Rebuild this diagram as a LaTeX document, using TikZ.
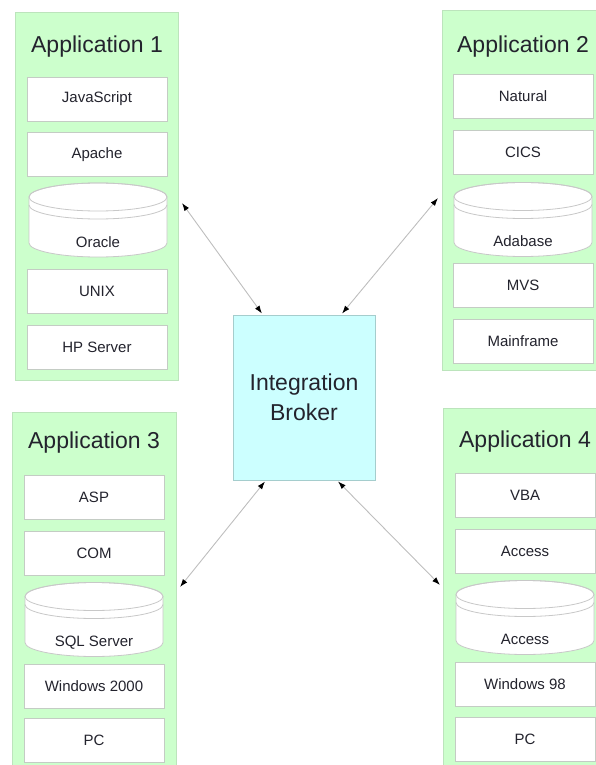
\documentclass[tikz,border=0pt]{standalone}
\usepackage{fontspec}
\setmainfont{Liberation Sans}
\usetikzlibrary{calc,arrows.meta}
\definecolor{panelgreen}{RGB}{204,255,204}
\definecolor{panelline}{RGB}{188,228,188}
\definecolor{boxline}{RGB}{196,204,196}
\definecolor{dbline}{RGB}{200,200,200}
\definecolor{brokercyan}{RGB}{204,255,255}
\definecolor{brokerline}{RGB}{165,205,205}
\definecolor{linkgray}{RGB}{190,190,190}
\definecolor{textdark}{RGB}{35,35,45}
% cylinder drawn inside a db node
\newcommand{\dbcyl}{%
  \coordinate (tl) at ($(path picture bounding box.north west)+(1,15)$);
  \coordinate (bl) at ($(path picture bounding box.south west)+(1,-15)$);
  \coordinate (tr) at ($(path picture bounding box.north east)+(-1,15)$);
  \coordinate (tc) at ($(path picture bounding box.north)+(0,15)$);
  \draw[dbline, fill=white, line width=0.8pt] (tl) -- (bl)
    arc[start angle=180, end angle=0, x radius=69, y radius=14] -- (tr)
    arc[start angle=0, end angle=-180, x radius=69, y radius=14] -- cycle;
  \draw[dbline, line width=0.8pt] (tc) ellipse [x radius=69, y radius=14];
  \draw[dbline, line width=0.8pt] ($(tl)+(0,8)$)
    arc[start angle=180, end angle=0, x radius=69, y radius=14];
}
\tikzset{
  every picture/.style={x=1pt, y=-1pt},
  panel/.style={draw=panelline, fill=panelgreen, line width=0.8pt, inner sep=0pt},
  apptitle/.style={font=\fontsize{23}{27}\selectfont, text=textdark},
  layer/.style={draw=boxline, fill=white, line width=0.8pt, minimum width=140pt,
    minimum height=44pt, inner sep=0pt, font=\fontsize{15}{18}\selectfont, text=textdark},
  db/.style={minimum width=140pt, inner sep=0pt, text height=65pt, text depth=11pt,
    font=\fontsize{15}{18}\selectfont, text=textdark, path picture={\dbcyl}},
  broker/.style={draw=brokerline, fill=brokercyan, line width=0.8pt, minimum width=142pt,
    minimum height=165pt, align=center, font=\fontsize{23}{30}\selectfont, text=textdark},
  link/.style={<->, >={Latex[length=8pt,width=5.5pt,color=black]}, draw=linkgray, line width=0.9pt},
}

\begin{document}
\begin{tikzpicture}
    \useasboundingbox (0,0) rectangle (595,765);
    % Application 1
    \node[panel, minimum width=163pt, minimum height=368pt] (app1) at (96.5,196) {};
    \node[apptitle] (title1) at (97,47) {Application 1};
    \node[layer] (js) at (97,99) {JavaScript};
    \node[layer] (apache) at (97,154.5) {Apache};
    \node[db] (oracle) at (98,220) {Oracle};
    \node[layer] (unix) at (97,291) {UNIX};
    \node[layer] (hp) at (97,347.5) {HP Server};
    % Application 2
    \node[panel, minimum width=164pt, minimum height=360pt] (app2) at (524,190) {};
    \node[apptitle] (title2) at (523,47) {Application 2};
    \node[layer] (natural) at (523,96.5) {Natural};
    \node[layer] (cics) at (523,152.5) {CICS};
    \node[db] (adabase) at (523,219.5) {Adabase};
    \node[layer] (mvs) at (523,285.5) {MVS};
    \node[layer] (mainframe) at (523,341) {Mainframe};
    % Application 3
    \node[panel, minimum width=164pt, minimum height=363pt] (app3) at (94,593.5) {};
    \node[apptitle] (title3) at (94,443) {Application 3};
    \node[layer] (asp) at (94,497) {ASP};
    \node[layer] (com) at (94,553) {COM};
    \node[db] (sqlsrv) at (94,619.5) {SQL Server};
    \node[layer] (win2k) at (94,686.5) {Windows 2000};
    \node[layer] (pc3) at (94,740) {PC};
    % Application 4
    \node[panel, minimum width=166pt, minimum height=367pt] (app4) at (526,591.5) {};
    \node[apptitle] (title4) at (525,442) {Application 4};
    \node[layer] (vba) at (525,495) {VBA};
    \node[layer] (access) at (525,551) {Access};
    \node[db] (accdb) at (525,617.5) {Access};
    \node[layer] (win98) at (525,684.5) {Windows 98};
    \node[layer] (pc4) at (525,739.5) {PC};
    % broker in the middle
    \node[broker] (broker) at (304,397.5) {Integration\\Broker};
    % links
    \coordinate (p1) at (182,203);
    \coordinate (p2) at (438,198);
    \coordinate (p3) at (180,587);
    \coordinate (p4) at (440,585);
    \draw[link] (p1) -- ([xshift=-42pt,yshift=1pt]broker.north);
    \draw[link] (p2) -- ([xshift=38pt,yshift=1pt]broker.north);
    \draw[link] ([xshift=-39pt,yshift=-1pt]broker.south) -- (p3);
    \draw[link] ([xshift=34pt,yshift=-1pt]broker.south) -- (p4);
\end{tikzpicture}
\end{document}
